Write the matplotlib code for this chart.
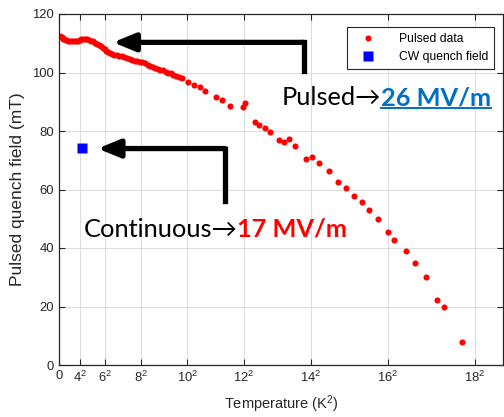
import matplotlib
matplotlib.use('Agg')
import matplotlib.pyplot as plt
from matplotlib.lines import Line2D

plt.rcParams['font.family'] = ['Liberation Sans', 'DejaVu Sans']
plt.rcParams['mathtext.fontset'] = 'custom'
plt.rcParams['mathtext.rm'] = 'Liberation Sans'
plt.rcParams['mathtext.it'] = 'Liberation Sans'

# 数据 (T^2, mT)
pulsed_t2 = [1.0, 2.0, 3.0, 4.0, 5.5, 7.0, 8.5, 10.0, 11.5, 13.0, 14.5, 16.0, 17.5,
             19.0, 20.5, 22.0, 23.5, 25.0, 26.5, 28.0, 29.5, 31.0, 32.5, 34.0, 35.5,
             37.0, 38.5, 40.0, 41.5, 43.0, 45.0, 47.0, 49.0, 51.0, 53.0, 55.0, 57.0,
             59.0, 61.0, 63.0, 65.0, 67.0, 69.0, 71.0, 73.0, 75.0, 77.0, 79.0, 81.0,
             83.0, 85.0, 87.0, 89.0, 91.5, 93.5,
             95.6, 100.7, 105.4, 109.8, 113.5, 122.3, 126.9, 133.2, 143.5, 144.9,
             152.9, 156.0, 160.7, 164.3, 171.1, 175.5, 179.4, 183.8, 192.1, 196.8,
             202.7, 210.3, 217.1, 223.5, 229.8, 236.2, 241.2, 248.4, 256.0, 261.4,
             270.2, 277.3, 285.8, 294.6, 300.4, 314.4]
pulsed_field = [112.4, 112.0, 111.6, 111.3, 111.0, 110.9, 110.9, 110.8, 110.9, 110.8,
                110.9, 111.0, 111.3, 111.5, 111.6, 111.5, 111.2, 110.9, 110.6, 110.2,
                109.8, 109.3, 108.9, 108.4, 107.9, 107.5, 107.0, 106.7, 106.4, 106.1,
                105.9, 105.7, 105.5, 105.2, 104.9, 104.6, 104.3, 104.0, 103.9, 103.7,
                103.6, 103.2, 102.7, 102.1, 101.9, 101.6, 101.2, 101.0, 100.7, 100.3,
                100.0, 99.7, 99.3, 98.9, 98.6,
                98.0, 96.6, 95.7, 95.1, 93.8, 91.7, 90.7, 88.4, 88.3, 89.7,
                83.2, 82.2, 81.0, 79.8, 76.9, 76.3, 77.2, 74.9, 70.3, 71.1,
                69.0, 66.2, 62.5, 60.5, 57.8, 55.8, 53.1, 50.0, 45.5, 42.7,
                39.0, 34.9, 30.1, 22.3, 19.8, 8.0]
cw_t2 = [17.9]
cw_field = [74.1]

xticks = [0, 16, 36, 64, 100, 144, 196, 256, 324]
xticklabels = ['0', '$4^2$', '$6^2$', '$8^2$', '$10^2$', '$12^2$', '$14^2$', '$16^2$', '$18^2$']
yticks = [0, 20, 40, 60, 80, 100, 120]

fig = plt.figure(figsize=(5.04, 4.17), dpi=100)
ax = fig.add_axes([59 / 504, 52 / 417, 444 / 504, 351 / 417])

ax.plot(pulsed_t2, pulsed_field, 'o', color='#ff0000', ms=4.4, mec='none', label='Pulsed data')
ax.plot(cw_t2, cw_field, 's', color='#0000ff', ms=7.5, mec='none', label='CW quench field')

ax.set_xlim(0, 346)
ax.set_ylim(0, 120)
ax.set_xticks(xticks)
ax.set_xticklabels(xticklabels)
ax.set_yticks(yticks)
ax.grid(True, color='#dcdcdc', lw=0.7)
ax.set_axisbelow(True)
ax.tick_params(direction='in', top=True, right=True, length=4, width=0.8,
               colors='#262626', labelsize=9.4)
for s in ax.spines.values():
    s.set_color('#262626')
    s.set_linewidth(0.9)

ax.set_xlabel('Temperature (K$^2$)', fontsize=10.5, color='#262626', labelpad=6)
ax.set_ylabel('Pulsed quench field (mT)', fontsize=12.5, color='#262626', labelpad=5)

leg = ax.legend(loc='upper right', bbox_to_anchor=(494 / 504, 1 - 27 / 417),
                bbox_transform=fig.transFigure, borderaxespad=0, fontsize=8.7,
                fancybox=False, framealpha=1, edgecolor='#262626',
                handlelength=2.6, handletextpad=1.2, borderpad=0.5, labelspacing=0.5)
leg.get_frame().set_linewidth(0.8)

# 箭头
ax.plot([190.8, 190.8], [100.5, 110.3], color='k', lw=3.8, solid_capstyle='projecting')
ax.annotate('', xy=(42.1, 110.3), xytext=(190.8, 110.3),
            arrowprops=dict(arrowstyle='-|>,head_length=1.1,head_width=0.45',
                            mutation_scale=12, lw=3.8, color='k', shrinkA=0, shrinkB=0))
ax.plot([129.5, 129.5], [56.1, 74.0], color='k', lw=3.8, solid_capstyle='projecting')
ax.annotate('', xy=(30.1, 74.0), xytext=(129.5, 74.0),
            arrowprops=dict(arrowstyle='-|>,head_length=1.1,head_width=0.45',
                            mutation_scale=12, lw=3.8, color='k', shrinkA=0, shrinkB=0))

# 文字
big = ['Lato', 'DejaVu Sans']
t1 = fig.text(281.7 / 504, 1 - 105 / 417, 'Pulsed\u2192', fontsize=18.3, family=big,
              va='baseline', ha='left')
t2 = ax.annotate('26 MV/m', xy=(1, 0), xycoords=t1, va='bottom', ha='left',
                 fontsize=18.3, family=big, fontweight='bold', color='#0070c0')
t3 = fig.text(83.3 / 504, 1 - 236.7 / 417, 'Continuous\u2192', fontsize=18.3, family=big,
              va='baseline', ha='left')
t4 = ax.annotate('17 MV/m', xy=(1, 0), xycoords=t3, va='bottom', ha='left',
                 fontsize=18.3, family=big, fontweight='bold', color='#ff0000')

fig.canvas.draw()
bb = t2.get_window_extent()
uy = (417 - 107.5) / 417
fig.add_artist(Line2D([bb.x0 / 504, bb.x1 / 504], [uy, uy], color='#0070c0', lw=1.4))

plt.savefig('out.png', dpi=100)
